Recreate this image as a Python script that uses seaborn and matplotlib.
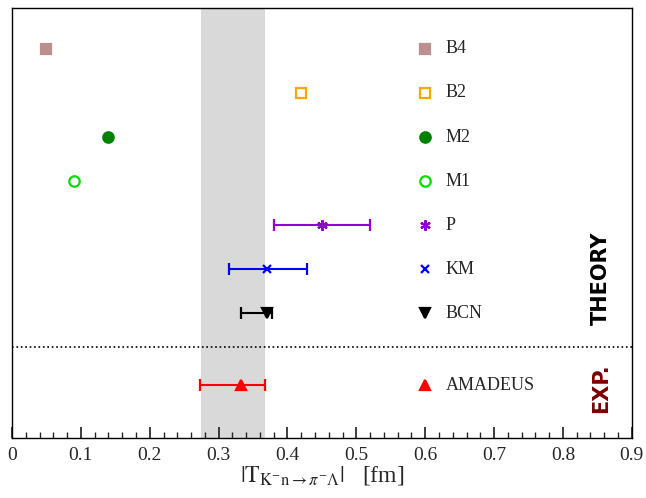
import matplotlib
matplotlib.use("Agg")
import matplotlib.pyplot as plt
import seaborn as sns
from matplotlib.ticker import MultipleLocator

labels = ["B4", "B2", "M2", "M1", "P", "KM", "BCN", "AMADEUS"]
values = [0.05, 0.42, 0.14, 0.09, 0.45, 0.37, 0.37, 0.332]
err_lo = [None, None, None, None, 0.38, 0.315, 0.333, 0.273]
err_hi = [None, None, None, None, 0.52, 0.428, 0.378, 0.368]
rows = [8, 7, 6, 5, 4, 3, 2, 0.36]
colors = ["#bc8f8f", "orange", "green", "#00dd00", "#9400d3", "blue", "black", "red"]
markers = ["s", "s", "o", "o", (6, 2, 0), "x", "v", "^"]
filled = [True, False, True, False, True, True, True, True]
band = (0.275, 0.368)

sns.set_theme(style="white")
plt.rcParams["font.family"] = ["Liberation Serif", "DejaVu Serif"]
plt.rcParams["mathtext.fontset"] = "stix"

fig = plt.figure(figsize=(6.46, 4.98), dpi=100)
ax = fig.add_axes([0.0186, 0.12, 0.9594, 0.864])
ax.axvspan(*band, color="#d9d9d9", lw=0, zorder=0)
ax.axhline(1.23, color="black", ls=":", lw=1.2)

for lab, v, lo, hi, y, c, m, f in zip(labels, values, err_lo, err_hi, rows, colors, markers, filled):
    size = 6 if m == "x" else 7.5
    kw = dict(color=c, marker=m, markersize=size, ls="none", mew=1.6,
              markerfacecolor=c if f else "white", markeredgecolor=c, zorder=3)
    if lo is not None:
        ax.errorbar([v], [y], xerr=[[v - lo], [hi - v]], capsize=4, elinewidth=1.5, capthick=1.5, **kw)
    else:
        ax.plot([v], [y], **kw)
    ax.plot([0.6], [y], **kw)
    ax.text(0.63, y, lab, va="center", ha="left", fontsize=13)

ax.text(0.855, 2.8, "THEORY", rotation=90, ha="center", va="center", fontsize=15,
        fontweight="bold", color="black", family=["DejaVu Sans"])
ax.text(0.855, 0.3, "EXP.", rotation=90, ha="center", va="center", fontsize=15,
        fontweight="bold", color="#7a0000", family=["DejaVu Sans"])

ax.set_xlim(0, 0.9)
ax.set_ylim(-0.84, 8.93)
ax.set_yticks([])
ax.xaxis.set_minor_locator(MultipleLocator(0.02))
ax.set_xticks([0, 0.1, 0.2, 0.3, 0.4, 0.5, 0.6, 0.7, 0.8, 0.9])
ax.set_xticklabels(["0", "0.1", "0.2", "0.3", "0.4", "0.5", "0.6", "0.7", "0.8", "0.9"])
ax.tick_params(axis="x", which="major", direction="in", length=8, bottom=True, labelsize=14, pad=6)
ax.tick_params(axis="x", which="minor", direction="in", length=4, bottom=True)
for s in ax.spines.values():
    s.set_color("black")
    s.set_linewidth(1)
ax.set_xlabel(r"$|\mathrm{T}_{\mathrm{K}^{-}\mathrm{n}\rightarrow\pi^{-}\Lambda}|$   [fm]", fontsize=17, labelpad=0)

fig.savefig("out.png", dpi=100)
